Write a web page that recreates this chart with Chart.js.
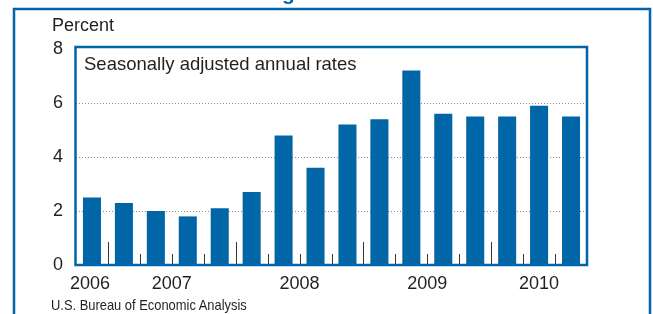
<!DOCTYPE html>
<html>
<head>
<meta charset="utf-8">
<script src="https://cdn.jsdelivr.net/npm/chart.js@4"></script>
<style>
  html, body { margin: 0; padding: 0; background: #fff; }
  #wrap { position: relative; width: 653px; height: 314px; overflow: hidden; }
  #source {
    position: absolute; left: 51px; top: 296px;
    font: 15px "Liberation Sans", Arial, sans-serif; color: #231f20;
    transform: scaleX(0.86); transform-origin: 0 0; white-space: nowrap;
  }
</style>
</head>
<body>
<div id="wrap">
  <canvas id="chart" width="653" height="314"></canvas>
  <div id="source">U.S. Bureau of Economic Analysis</div>
</div>
<script>
  // quarters 2006Q4 .. 2010Q3
  const quarters = ["2006 Q4",
    "2007 Q1", "2007 Q2", "2007 Q3", "2007 Q4",
    "2008 Q1", "2008 Q2", "2008 Q3", "2008 Q4",
    "2009 Q1", "2009 Q2", "2009 Q3", "2009 Q4",
    "2010 Q1", "2010 Q2", "2010 Q3"];
  const savingRate = [2.5, 2.3, 2.0, 1.8, 2.1, 2.7, 4.8, 3.6, 5.2, 5.4, 7.2, 5.6, 5.5, 5.5, 5.9, 5.5];
  const yearLabels = ["2006", "2007", "2008", "2009", "2010"];
  const yearStart = [0, 1, 5, 9, 13];   // index of first quarter of each year
  const yTicks = [0, 2, 4, 6, 8];

  const BLUE = "#0066a8";
  const TEXT = "#231f20";
  const FONT = '"Liberation Sans", Arial, sans-serif';

  const decor = {
    id: "decor",
    afterDraw(chart) {
      const ctx = chart.ctx;
      const a = chart.chartArea;
      const x = chart.scales.x;
      const step = x.getPixelForValue(1) - x.getPixelForValue(0);
      ctx.save();

      // quarter ticks, tall ones at year boundaries
      ctx.strokeStyle = "#333";
      ctx.lineWidth = 1;
      for (let i = 1; i < quarters.length; i++) {
        const px = Math.round(x.getPixelForValue(i) - step / 2) + 0.5;
        const h = yearStart.includes(i) ? 23 : 11;
        ctx.beginPath();
        ctx.moveTo(px, a.bottom);
        ctx.lineTo(px, a.bottom - h);
        ctx.stroke();
      }

      // year labels centred over their quarters
      ctx.fillStyle = TEXT;
      ctx.font = "18px " + FONT;
      ctx.textAlign = "center";
      ctx.textBaseline = "middle";
      yearLabels.forEach((lab, k) => {
        const s = yearStart[k];
        const e = k + 1 < yearStart.length ? yearStart[k + 1] : s + 4;
        let left = x.getPixelForValue(s) - step / 2;
        let right = x.getPixelForValue(e) - step / 2;
        left = Math.max(left, a.left);
        right = Math.min(right, a.right);
        ctx.fillText(lab, (left + right) / 2 - (k === 0 ? 2 : 0), 284);
      });

      // plot frame
      ctx.strokeStyle = BLUE;
      ctx.lineWidth = 2.5;
      ctx.strokeRect(a.left - 0.5, a.top - 2, a.right - a.left + 0.5, a.bottom - a.top + 2);

      // outer frame
      ctx.strokeRect(14, 9, 636, 340);

      // texts
      ctx.fillStyle = TEXT;
      ctx.textAlign = "left";
      ctx.textBaseline = "alphabetic";
      ctx.font = "18px " + FONT;
      ctx.fillText("Percent", 52, 31);
      ctx.font = "18.5px " + FONT;
      ctx.fillText("Seasonally adjusted annual rates", 84, 70);

      // title, cut off at the top
      ctx.fillStyle = BLUE;
      ctx.font = "bold 21px " + FONT;
      const title = "Personal Saving Rate";
      const pre = ctx.measureText("Personal Savin").width;
      ctx.fillText(title, 282 - pre, 0);

      ctx.restore();
    }
  };

  new Chart(document.getElementById("chart"), {
    type: "bar",
    data: {
      labels: quarters,
      datasets: [{
        data: savingRate,
        backgroundColor: BLUE,
        borderWidth: 0,
        categoryPercentage: 1,
        barPercentage: 0.565
      }]
    },
    options: {
      responsive: false,
      animation: false,
      layout: { padding: { top: 49, right: 66, bottom: 0, left: 0 } },
      plugins: { legend: { display: false }, tooltip: { enabled: false } },
      scales: {
        x: {
          offset: true,
          grid: { display: false },
          border: { display: false },
          ticks: { display: false },
          afterFit: (s) => { s.height = 49; }
        },
        y: {
          min: 0,
          max: 8,
          afterBuildTicks: (s) => { s.ticks = yTicks.map(v => ({ value: v })); },
          grid: {
            drawTicks: false,
            lineWidth: 1,
            color: (c) => (c.tick && c.tick.value > 0 && c.tick.value < 8) ? "#8a8a8a" : "rgba(0,0,0,0)"
          },
          border: { display: false, dash: [1, 2] },
          ticks: {
            padding: 13,
            color: TEXT,
            font: { family: FONT, size: 18 }
          },
          afterFit: (s) => { s.width = 76; }
        }
      }
    },
    plugins: [decor]
  });
</script>
</body>
</html>
